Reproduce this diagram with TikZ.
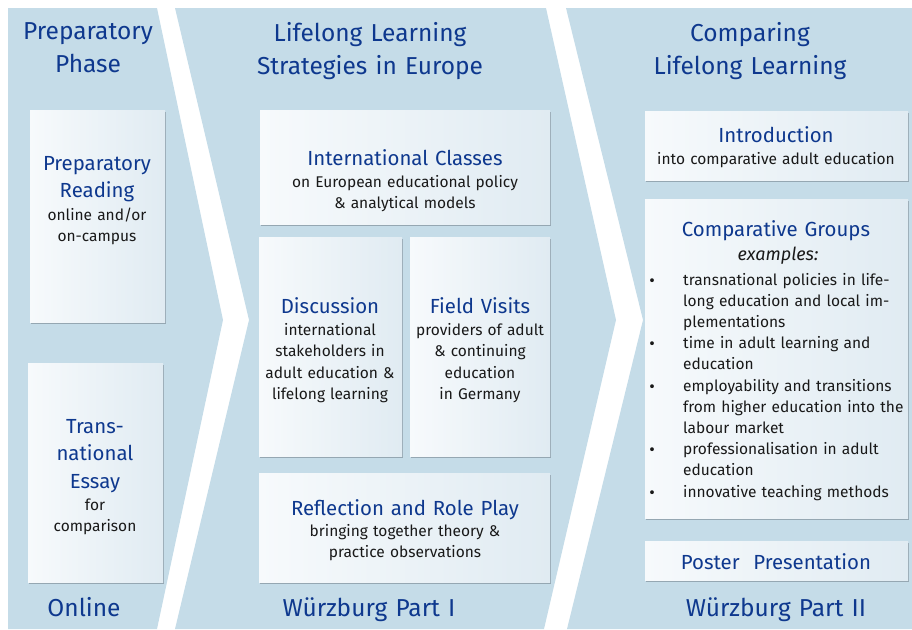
\documentclass[tikz,border=0pt]{standalone}
\usepackage{fontspec}
\setmainfont{Fira Sans}
\usetikzlibrary{shadows,fit}
\definecolor{panel}{RGB}{197,220,232}
\definecolor{ttl}{RGB}{14,56,142}
\definecolor{txt}{RGB}{25,25,25}
\definecolor{boxL}{RGB}{247,250,252}
\definecolor{boxR}{RGB}{224,235,242}
\definecolor{shad}{RGB}{110,125,135}
\begin{document}
\begin{tikzpicture}[x=1pt,y=-1pt,
  box/.style={inner sep=0pt, draw=none, left color=boxL, right color=boxR,
    drop shadow={shadow xshift=1.2pt,shadow yshift=-2pt,fill=shad,opacity=0.55}},
  ptitle/.style={font=\fontsize{24.5}{33}\selectfont, text=ttl, text width=320pt, align=center, inner sep=0pt, anchor=base},
  btitle/.style={font=\fontsize{20.4}{27.5}\selectfont, text=ttl, text width=300pt, align=center, inner sep=0pt, anchor=base},
  body/.style={font=\fontsize{15.5}{21.5}\selectfont, text=txt, text width=300pt, align=center, inner sep=0pt, anchor=base},
  bul/.style={font=\fontsize{17}{17}\selectfont, text=txt, inner sep=0pt, anchor=base},
]
\useasboundingbox (0,0) rectangle (912,629);
% panels
\fill[panel] (8,8) -- (157,8) -- (223,320) -- (157,629) -- (8,629) -- cycle;
\fill[panel] (175,8) -- (546,8) -- (616,320) -- (544,629) -- (175,629) -- (249,320) -- cycle;
\fill[panel] (566,8) -- (912,8) -- (912,629) -- (567,629) -- (643,320) -- cycle;

% panel titles
\node[ptitle] (t1) at (88,39) {Preparatory\\Phase};
\node[ptitle] (t2) at (370,41) {Lifelong Learning\\Strategies in Europe};
\node[ptitle] (t3) at (750,41) {Comparing\\Lifelong Learning};
\node[ptitle] (f1) at (84,616) {Online};
\node[ptitle] (f2) at (369,616) {Würzburg Part I};
\node[ptitle] (f3) at (776,616) {Würzburg Part II};

% boxes
\node[box, fit={(30,110) (165,322)}] (pr) {};
\node[box, fit={(28,363) (163,582)}] (te) {};
\node[box, fit={(260,110) (550,224)}] (ic) {};
\node[box, fit={(259,237) (402,456)}] (di) {};
\node[box, fit={(410,237) (550,456)}] (fv) {};
\node[box, fit={(259,473) (550,582)}] (rr) {};
\node[box, fit={(645,111) (908,180)}] (in) {};
\node[box, fit={(645,199) (908,518)}] (cg) {};
\node[box, fit={(645,541) (908,580)}] (pp) {};

% box texts
\node[btitle] (pr-t) at (97,170) {Preparatory\\Reading};
\node[body] (pr-b) at (97,220) {online and/or\\on-campus};

\node[btitle] (te-t) at (95,433) {Trans-\\national\\Essay};
\node[body] (te-b) at (95,510) {for\\comparison};

\node[btitle] (ic-t) at (405,165) {International Classes};
\node[body] (ic-b) at (405,187) {on European educational policy\\\& analytical models};

\node[btitle] (di-t) at (330,313) {Discussion};
\node[body] (di-b) at (330,335) {international\\stakeholders in\\adult education \&\\lifelong learning};

\node[btitle] (fv-t) at (480,313) {Field Visits};
\node[body] (fv-b) at (480,335) {providers of adult\\\& continuing\\education\\in Germany};

\node[btitle] (rr-t) at (405,515) {Reflection and Role Play};
\node[body] (rr-b) at (405,536) {bringing together theory \&\\practice observations};

\node[btitle] (in-t) at (776,142) {Introduction};
\node[body] (in-b) at (776,164) {into comparative adult education};

\node[btitle] (cg-t) at (776,236) {Comparative Groups};
\node[body, font=\fontsize{18}{21}\selectfont\itshape] (cg-e) at (778,260) {examples:};
\node[font=\fontsize{15.5}{21.2}\selectfont, text=txt, text width=260pt, align=left, inner sep=0pt, anchor=base west] (cg-l) at (683,285)
  {transnational policies in life-\\long education and local im-\\plementations\\time in adult learning and\\education\\employability and transitions\\from higher education into the\\labour market\\professionalisation in adult\\education\\innovative teaching methods};
\node[bul] (b1) at (652,286) {\textbullet};
\node[bul] (b2) at (652,349.6) {\textbullet};
\node[bul] (b3) at (652,392) {\textbullet};
\node[bul] (b4) at (652,455.6) {\textbullet};
\node[bul] (b5) at (652,498) {\textbullet};

\node[btitle] (pp-t) at (776,569) {Poster\ \ Presentation};
\end{tikzpicture}
\end{document}
